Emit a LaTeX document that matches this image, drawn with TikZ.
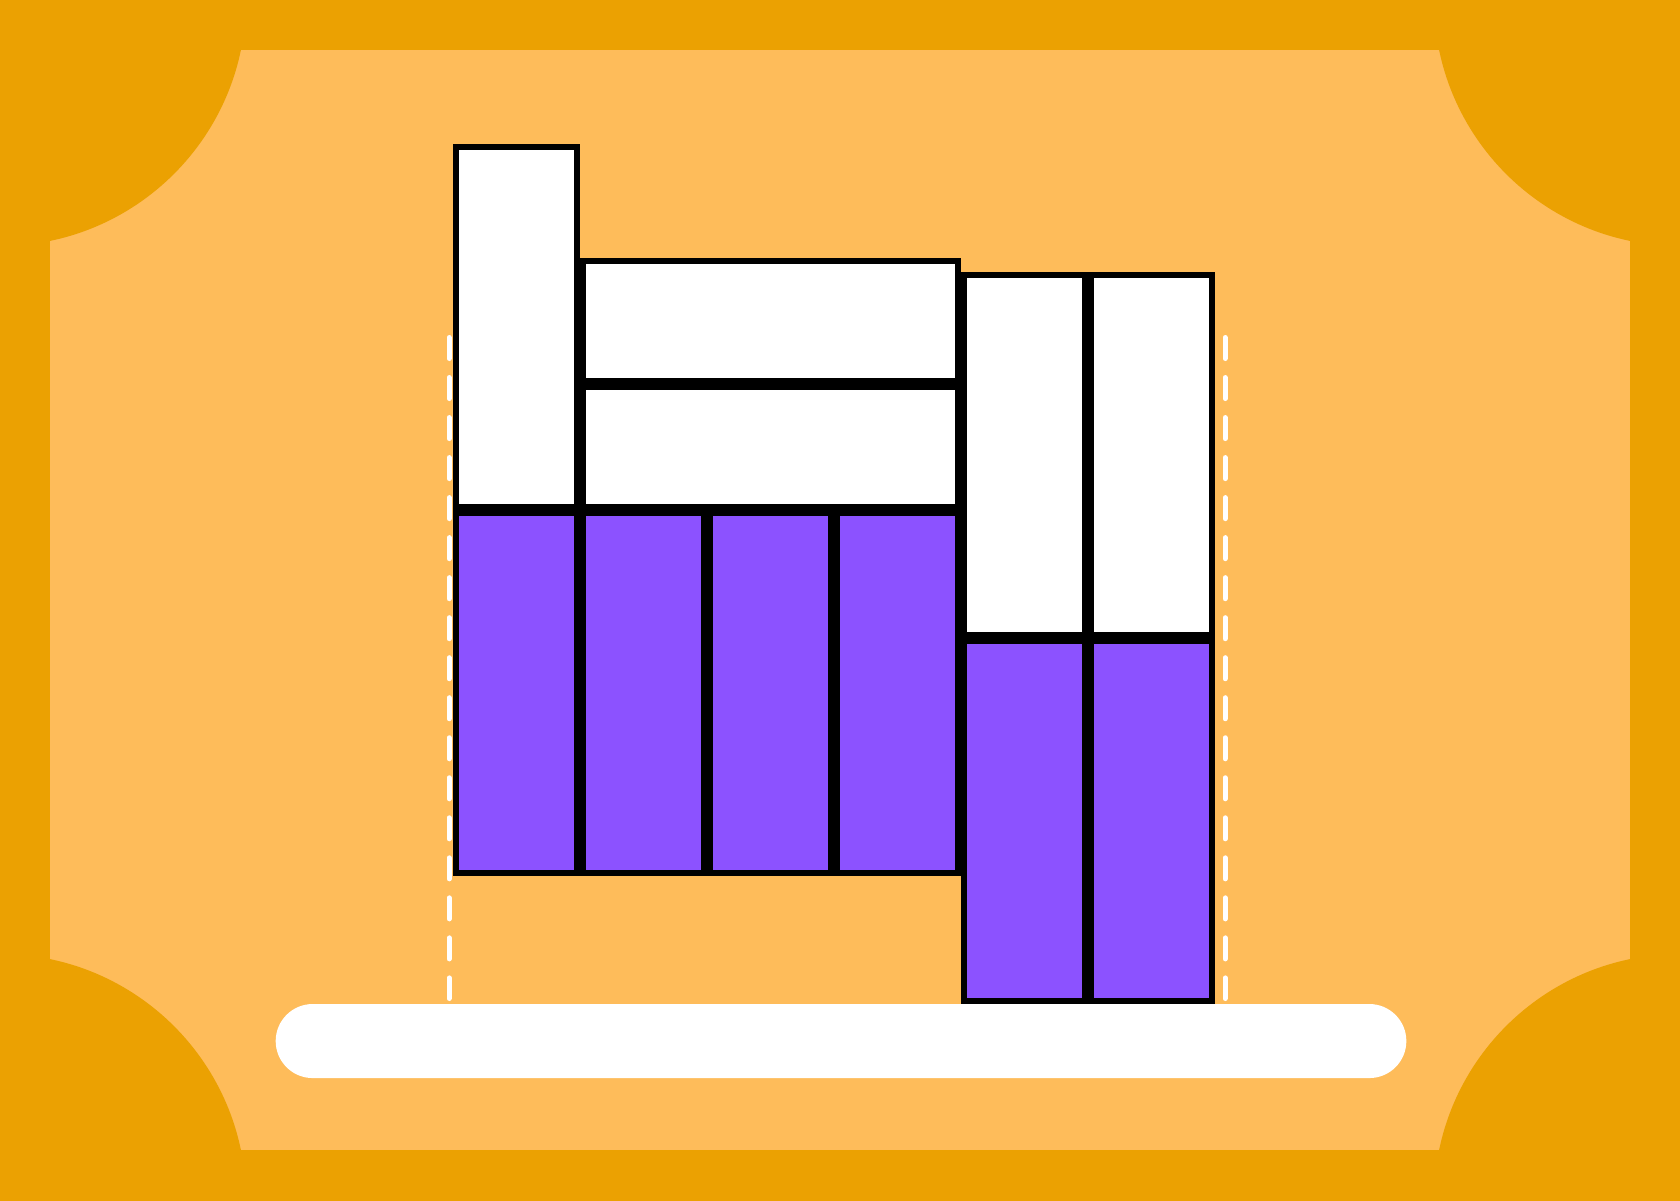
\documentclass[tikz,border=0pt]{standalone}
\usetikzlibrary{positioning}
\definecolor{rimorange}{RGB}{235,161,2}
\definecolor{paneorange}{RGB}{254,188,90}
\definecolor{slabviolet}{RGB}{140,82,255}

\begin{document}
\begin{tikzpicture}[
  x = 0.01cm, y = -0.01cm,
  node distance  = 0pt,
  slab/.style     = {draw=black, line width=0.06cm, inner sep=0pt},
  openslab/.style = {slab, fill=white},
  fullslab/.style = {slab, fill=slabviolet},
  tall/.style     = {minimum width=1.21cm, minimum height=3.60cm},
  wide/.style     = {minimum width=3.75cm, minimum height=1.20cm},
  guide/.style    = {white, line width=0.05cm, line cap=round,
                     dash pattern=on 0.21cm off 0.19cm},
  shelf/.style    = {fill=white, rounded corners=0.37cm,
                     inner sep=0pt, outer sep=0pt,
                     minimum width=11.3cm, minimum height=0.74cm},
]
\useasboundingbox (0,0) rectangle (1680,1200);
% frame with cut corners
\fill[rimorange] (-20,-20) rectangle (1700,1220);
\fill[paneorange] (50,50) rectangle (1630,1150);
\begin{scope}
  \clip (50,50) rectangle (1630,1150);
  \foreach \cx/\cy in {0/0, 1680/0, 0/1200, 1680/1200}
    \fill[rimorange] (\cx,\cy) circle[radius=246];
\end{scope}
% guides and shelf
\draw[guide] (449,337.5) -- (449,998.5);
\draw[guide] (1225,337.5) -- (1225,998.5);
\node[shelf, anchor=north] (bar) at (841,1004) {};
% left block
\node[fullslab, tall, anchor=north west] (p1) at (453,510) {};
\node[fullslab, tall, right=of p1] (p2) {};
\node[fullslab, tall, right=of p2] (p3) {};
\node[fullslab, tall, right=of p3] (p4) {};
\node[openslab, tall, above=of p1] (w1) {};
\node[openslab, wide, above=of p3] (h2) {};
\node[openslab, wide, above=of h2] (h1) {};
% right block
\node[fullslab, tall, anchor=south west] (p5) at (961,1004) {};
\node[fullslab, tall, right=of p5] (p6) {};
\node[openslab, tall, above=of p5] (w5) {};
\node[openslab, tall, above=of p6] (w6) {};
\end{tikzpicture}
\end{document}
